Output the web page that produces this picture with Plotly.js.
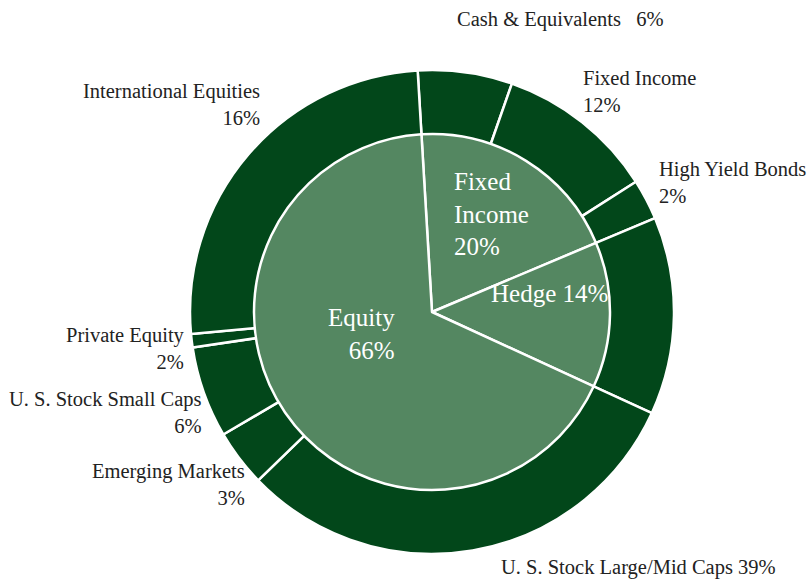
<!DOCTYPE html>
<html>
<head>
<meta charset="utf-8">
<script src="https://cdn.plot.ly/plotly-3.0.1.min.js"></script>
<style>html,body{margin:0;padding:0;background:#fff;}#chart{width:808px;height:580px;}</style>
</head>
<body>
<div id="chart"></div>
<script>
// Inner ring (asset class)
var innerLabels = ["Fixed Income", "Hedge", "Equity"];
var innerPct = [20, 14, 66];                 // percentages printed on the chart
var innerSlice = [19.6, 13.2, 67.2];         // slice sizes as drawn in the picture
// Outer ring (sub-class)
var outerLabels = ["Cash & Equivalents", "Fixed Income", "High Yield Bonds", "Hedge",
  "U. S. Stock Large/Mid Caps", "Emerging Markets", "U. S. Stock Small Caps",
  "Private Equity", "International Equities"];
var outerPct = [6, 12, 2, 14, 39, 3, 6, 2, 16];                       // printed
var outerSlice = [6.3, 10.6, 2.7, 13.2, 30.9, 3.8, 6.1, 0.9, 25.5];   // as drawn

var W = 808, H = 580;
var FONT = "Liberation Serif, Times New Roman, serif";
var DARK = "#02471a", LIGHT = "#548761";

function px(x){ return x / W; }
function py(y){ return 1 - y / H; }

var outer = {
  type: "pie", sort: false, direction: "clockwise", rotation: -3.4,
  labels: outerLabels, values: outerSlice,
  hole: 0.73,
  marker: {colors: outerSlice.map(function(){return DARK;}), line: {color: "#ffffff", width: 2.5}},
  textinfo: "none", hoverinfo: "label",
  domain: {x: [px(190), px(674)], y: [py(554), py(70)]},
  showlegend: false
};
var inner = {
  type: "pie", sort: false, direction: "clockwise", rotation: -3.4,
  labels: innerLabels, values: innerSlice,
  marker: {colors: innerSlice.map(function(){return LIGHT;}), line: {color: "#ffffff", width: 2.5}},
  textinfo: "none", hoverinfo: "label",
  domain: {x: [px(254), px(610)], y: [py(490), py(134)]},
  showlegend: false
};

// label placement: [index, x, y, xanchor, separator]
var outerPlace = [
  [0, 455, 19, "left", "&nbsp;&nbsp;&nbsp;"],
  [1, 581, 92, "left", "<br>"],
  [2, 657, 182, "left", "<br>"],
  [4, 499, 567, "left", " "],
  [5, 247, 484, "right", "<br>"],
  [6, 204, 412, "right", "<br>"],
  [7, 187, 348, "right", "<br>"],
  [8, 262, 104, "right", "<br>"]
];
var innerPlace = [
  [0, 452, 214, "left", "<br>", "Fixed<br>Income"],
  [1, 489, 293, "left", " ", null],
  [2, 397, 334, "right", "<br>", null]
];

var annotations = [];
outerPlace.forEach(function(p){
  annotations.push({
    xref: "paper", yref: "paper", x: px(p[1]), y: py(p[2]),
    xanchor: p[3], yanchor: "middle", align: p[3], showarrow: false,
    text: outerLabels[p[0]] + p[4] + outerPct[p[0]] + "%",
    font: {family: FONT, size: 20.5, color: "#222222"}
  });
});
innerPlace.forEach(function(p){
  var lbl = p[5] || innerLabels[p[0]];
  annotations.push({
    xref: "paper", yref: "paper", x: px(p[1]), y: py(p[2]),
    xanchor: p[3], yanchor: "middle", align: p[3], showarrow: false,
    text: lbl + p[4] + innerPct[p[0]] + "%",
    font: {family: FONT, size: 25, color: "#ffffff"}
  });
});

var layout = {
  width: W, height: H,
  margin: {l: 0, r: 0, t: 0, b: 0},
  paper_bgcolor: "#ffffff", plot_bgcolor: "#ffffff",
  showlegend: false,
  annotations: annotations
};

Plotly.newPlot("chart", [outer, inner], layout, {displayModeBar: false, staticPlot: true});
</script>
</body>
</html>
